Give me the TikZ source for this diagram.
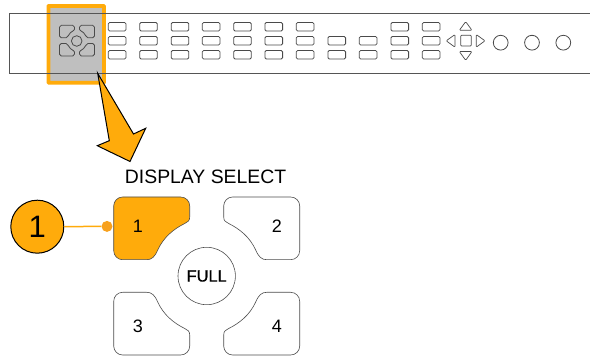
\documentclass[tikz,border=0pt]{standalone}
\usepackage{fontspec}
\setmainfont{Liberation Sans}
\newfontfamily\semibfont[FakeBold=0.35]{Liberation Sans}
\definecolor{hl}{HTML}{FFAB0B}
\definecolor{dotc}{HTML}{F7A11E}
\definecolor{pan}{HTML}{555555}
\definecolor{keyc}{HTML}{4A4A4A}
\newcommand\btnshape[1]{\draw[#1] (9,0) -- (67,0) .. controls (72,0) and (76,4) .. (76,9) -- (76,20)
  .. controls (76,24) and (74,25) .. (71,26.5) .. controls (60,32) and (50,40) .. (44,53)
  .. controls (41,60) and (38,62.7) .. (33,62.7) -- (9,62.7) .. controls (4,62.7) and (0,58.7) .. (0,53.7)
  -- (0,9) .. controls (0,4) and (4,0) .. (9,0) -- cycle;}
\tikzset{
  x=1pt,y=-1pt,
  keybtn/.style={draw=keyc,line width=.8pt,rounded corners=1.3pt,fill=white},
  navbtn/.style={draw=keyc,line width=.7pt,rounded corners=1pt,line join=round},
  smallround/.style={draw=keyc,line width=.8pt},
  bigbtn/.style={draw=black!70,line width=.6pt},
  biglabel/.style={font=\fontsize{18}{18}\selectfont,text=black,inner sep=0pt},
  callout/.style={circle,draw=black,line width=1pt,fill=hl,minimum size=53pt,inner sep=0pt,font=\fontsize{31}{31}\selectfont},
  leadline/.style={draw=hl,line width=1.5pt},
}
\begin{document}
\begin{tikzpicture}
\useasboundingbox (0,0) rectangle (590,358);
% highlight
\draw[hl,line width=3.8pt,fill=black!25,rounded corners=.5pt] (48.4,6) rectangle (104,82.7);
% panel
\draw[pan,line width=.7pt] (592,13.5) -- (9.5,13.5) -- (9.5,73) -- (592,73);
% small cluster
\begin{scope}[shift={(59.5,25.3)},xscale=.197,yscale=.2]\btnshape{smallround}\end{scope}
\begin{scope}[shift={(94.5,25.3)},xscale=-.197,yscale=.2]\btnshape{smallround}\end{scope}
\begin{scope}[shift={(59.5,56)},xscale=.197,yscale=-.2]\btnshape{smallround}\end{scope}
\begin{scope}[shift={(94.5,56)},xscale=-.197,yscale=-.2]\btnshape{smallround}\end{scope}
\draw[smallround] (76.7,41) circle[radius=5.3];
% key rows
\foreach \x in {108.3,139.7,171.2,202.3,233.7,265,296.3,391,422.3}
  \foreach \y in {22.5,36.5,50.5}
    \draw[keybtn] (\x,\y) rectangle ++(17.6,8.5);
\foreach \x in {328,359.3}
  \foreach \y in {36.5,50.5}
    \draw[keybtn] (\x,\y) rectangle ++(17.6,8.5);
% navigation keys
\draw[navbtn] (465.7,21.7) -- (472,30.3) -- (459.3,30.3) -- cycle;
\draw[navbtn] (465.7,60.3) -- (472,51.5) -- (459.3,51.5) -- cycle;
\draw[navbtn] (446.2,40.8) -- (455,34.5) -- (455,47.2) -- cycle;
\draw[navbtn] (485,40.8) -- (476.2,34.5) -- (476.2,47.2) -- cycle;
\draw[navbtn] (460.7,35.2) rectangle (471.3,46);
\foreach \x in {500.7,532,563.3}
  \draw[smallround] (\x,42.7) circle[radius=7.4];
% big arrow
\draw[fill=hl,draw=black,line width=1pt,line join=miter] (97.7,73.3) -- (133.5,134) -- (145.7,128.3) -- (130,161.5) -- (97.3,145.7) -- (109.3,140.7) -- cycle;
% title
\node[font=\fontsize{19.4}{19.4}\selectfont,inner sep=0pt] (title) at (205.6,177) {DISPLAY SELECT};
% big buttons
\begin{scope}[shift={(113.7,197)}]\btnshape{bigbtn,fill=hl}\end{scope}
\begin{scope}[shift={(299.7,197)},xscale=-1]\btnshape{bigbtn}\end{scope}
\begin{scope}[shift={(113.7,355)},yscale=-1]\btnshape{bigbtn}\end{scope}
\begin{scope}[shift={(299.7,355)},xscale=-1,yscale=-1]\btnshape{bigbtn}\end{scope}
\node[biglabel] (l1) at (138,226) {1};
\node[biglabel] (l2) at (277,226) {2};
\node[biglabel] (l3) at (138,326) {3};
\node[biglabel] (l4) at (277,326) {4};
\node[circle,draw=black!70,line width=.6pt,minimum size=57.4pt,inner sep=0pt,font=\fontsize{16.4}{16.4}\semibfont] (full) at (206.7,276) {FULL};
% callout
\node[callout] (call) at (37.3,226.7) {1};
\node[circle,fill=dotc,minimum size=11pt,inner sep=0pt] (dot) at (107,226.4) {};
\draw[leadline] (call) -- (dot);
\end{tikzpicture}
\end{document}
